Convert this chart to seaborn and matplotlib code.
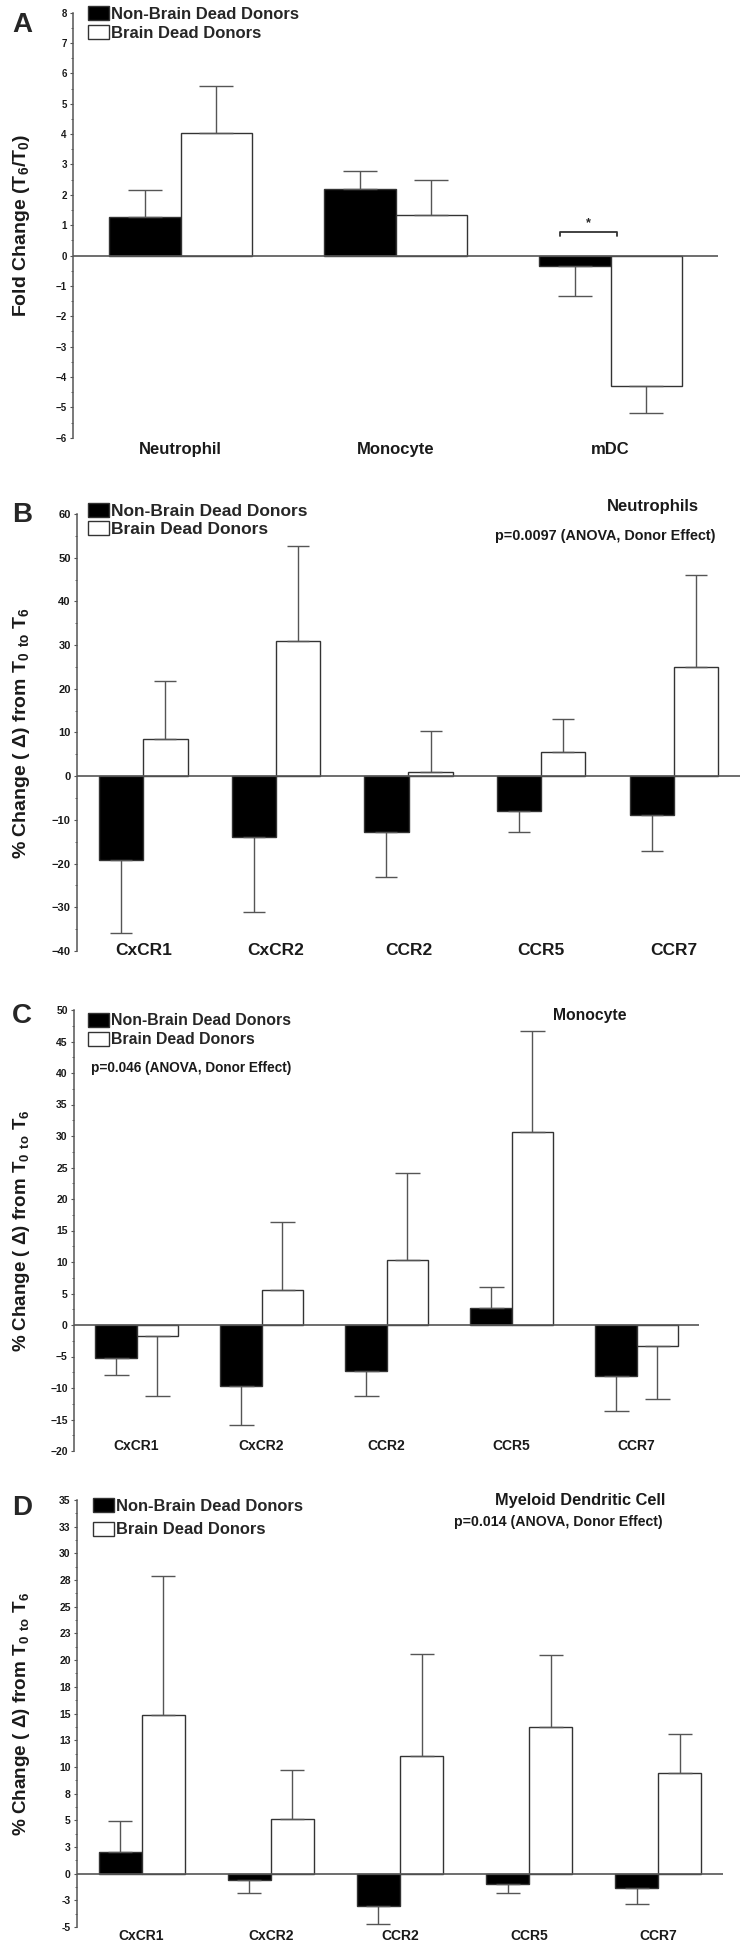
import matplotlib
matplotlib.use("Agg")
import matplotlib.pyplot as plt
from matplotlib import font_manager
from matplotlib.ticker import MultipleLocator, AutoMinorLocator, FuncFormatter
import numpy as np
import pandas as pd
import seaborn as sns

# --- data ---
DONORS = ['Non-Brain Dead Donors', 'Brain Dead Donors']

# A: fold change T6/T0
CELLS = ['Neutrophil', 'Monocyte', 'mDC']
A_NBD = [1.28, 2.20, -0.34]
A_NBD_ERR = [0.87, 0.57, 1.00]
A_BD = [4.03, 1.33, -4.30]
A_BD_ERR = [1.54, 1.17, 0.88]

RECEPTORS = ['CxCR1', 'CxCR2', 'CCR2', 'CCR5', 'CCR7']

# B: neutrophils
B_NBD = [-19.2, -14.0, -12.7, -7.9, -8.9]
B_NBD_ERR = [16.6, 17.0, 10.4, 4.9, 8.2]
B_BD = [8.5, 31.0, 1.0, 5.5, 24.9]
B_BD_ERR = [13.3, 21.6, 9.3, 7.5, 21.2]

# C: monocyte
C_NBD = [-5.2, -9.7, -7.3, 2.7, -8.1]
C_NBD_ERR = [2.7, 6.1, 4.0, 3.4, 5.5]
C_BD = [-1.7, 5.6, 10.3, 30.7, -3.4]
C_BD_ERR = [9.6, 10.7, 13.9, 16.0, 8.3]

# D: myeloid dendritic cell
D_NBD = [2.0, -0.6, -3.0, -1.0, -1.3]
D_NBD_ERR = [2.9, 1.2, 1.7, 0.8, 1.5]
D_BD = [14.9, 5.1, 11.0, 13.7, 9.4]
D_BD_ERR = [13.0, 4.6, 9.6, 6.8, 3.7]

W, H = 742, 1950
LINE = '#555555'
FONT = ['Liberation Sans', 'DejaVu Sans']

# condensed face for the small labels if we have it
_names = {f.name for f in font_manager.fontManager.ttflist}
if 'Liberation Sans Narrow' in _names:
    NARROW, K = ['Liberation Sans Narrow', 'Liberation Sans', 'DejaVu Sans'], 1.12
else:
    NARROW, K = FONT, 1.0

sns.set_theme(style='white')
plt.rcParams['font.family'] = FONT
plt.rcParams['font.weight'] = 'bold'
plt.rcParams['mathtext.default'] = 'regular'

fig = plt.figure(figsize=(W / 100, H / 100), dpi=100)


def add_axes(left, right, top, bottom):
    return fig.add_axes([left / W, 1 - bottom / H, (right - left) / W, (bottom - top) / H])


def half_up(v, pos):
    # the original rounds 2.5 -> 3, 7.5 -> 8 ...
    s = np.sign(v)
    return '%d' % (s * np.floor(abs(v) + 0.5))


def ntext(x, y, s, size, **kw):
    fig.text(x / W, 1 - y / H, s, fontsize=size * K, family=NARROW, fontweight='bold',
             color='#1a1a1a', va='center', **kw)


def panel(ax, cats, nbd, nbd_err, bd, bd_err, ylim, major, tick_fs, cat_fs, cat_pad,
          ylabel, ylabel_fs, capsize, leg_xy, leg_fs, leg_pitch, fmt=None):
    df = pd.DataFrame({
        'cat': cats * 2,
        'donor': [DONORS[0]] * len(cats) + [DONORS[1]] * len(cats),
        'val': nbd + bd,
    })
    sns.barplot(data=df, x='cat', y='val', hue='donor', hue_order=DONORS, order=cats,
                palette=['black', 'white'], saturation=1, width=2 / 3, errorbar=None,
                edgecolor='#333333', linewidth=1.0, legend=False, ax=ax)

    # one-sided error bars, away from zero
    for cont, vals, errs in zip(ax.containers, [nbd, bd], [nbd_err, bd_err]):
        for bar, v, e in zip(cont, vals, errs):
            x = bar.get_x() + bar.get_width() / 2
            yerr = [[0], [e]] if v >= 0 else [[e], [0]]
            ax.errorbar(x, v, yerr=yerr, fmt='none', ecolor=LINE, elinewidth=1.0,
                        capsize=capsize, capthick=1.0, zorder=3)

    ax.axhline(0, color=LINE, lw=1.2, zorder=4)
    ax.set_xlim(-0.5, len(cats) - 0.5)
    ax.set_ylim(*ylim)
    ax.yaxis.set_major_locator(MultipleLocator(major))
    ax.yaxis.set_minor_locator(AutoMinorLocator(2))
    if fmt is not None:
        ax.yaxis.set_major_formatter(FuncFormatter(fmt))
    for s in ['top', 'right', 'bottom']:
        ax.spines[s].set_visible(False)
    ax.spines['left'].set_color(LINE)
    ax.spines['left'].set_linewidth(1.1)
    ax.tick_params(axis='y', which='major', direction='out', length=2.5, width=0.8,
                   color=LINE, pad=2, labelsize=tick_fs * K, left=True)
    ax.tick_params(axis='y', which='minor', direction='out', length=1.5, width=0.6,
                   color=LINE, left=True)
    ax.tick_params(axis='x', length=0, pad=cat_pad, labelsize=cat_fs * K)
    for lab in ax.get_xticklabels() + ax.get_yticklabels():
        lab.set_fontweight('bold')
        lab.set_family(NARROW)
        lab.set_color('#1a1a1a')
    ax.set_xlabel('')
    ax.set_ylabel(ylabel, fontsize=ylabel_fs, fontweight='bold', va='center', color='#1a1a1a')
    pos = ax.get_position()
    ax.yaxis.set_label_coords((22 / W - pos.x0) / pos.width, 0.5)

    fs_px = leg_fs * K * 100 / 72
    ax.legend(ax.containers, DONORS, loc='upper left',
              bbox_to_anchor=(leg_xy[0] / W, 1 - leg_xy[1] / H), bbox_transform=fig.transFigure,
              frameon=False, borderpad=0, borderaxespad=0,
              handlelength=21 / fs_px, handleheight=15 / fs_px, handletextpad=2 / fs_px,
              labelspacing=leg_pitch / fs_px - 0.9,
              prop={'family': NARROW, 'weight': 'bold', 'size': leg_fs * K})


PCT_LABEL = r'% Change ( $\Delta$) from T$_0$ $_{to}$ T$_6$'

# ---------------- A ----------------
axA = add_axes(73, 718, 12.7, 437.7)
panel(axA, CELLS, A_NBD, A_NBD_ERR, A_BD, A_BD_ERR, (-6, 8), 1, 7, 12, 2.9,
      r'Fold Change (T$_6$/T$_0$)', 14, 12.5, (88, 6), 12, 18.5)
# significance bracket over mDC
BR_X0, BR_X1, BR_Y, BR_DROP = 1.765, 2.03, 0.76, 0.13
axA.plot([BR_X0, BR_X0, BR_X1, BR_X1], [BR_Y - BR_DROP, BR_Y, BR_Y, BR_Y - BR_DROP],
         color='#333333', lw=1.3)
axA.text((BR_X0 + BR_X1) / 2, BR_Y + 0.12, '*', ha='center', va='bottom',
         fontsize=9, fontweight='bold')

# ---------------- B ----------------
axB = add_axes(77, 740, 514, 951)
panel(axB, RECEPTORS, B_NBD, B_NBD_ERR, B_BD, B_BD_ERR, (-40, 60), 10, 8, 12.5, -5.4,
      PCT_LABEL, 14, 8, (88, 503), 12.5, 18)
ntext(653, 507, 'Neutrophils', 12, ha='center')
ntext(605, 536, 'p=0.0097 (ANOVA, Donor Effect)', 10.4, ha='center')

# ---------------- C ----------------
axC = add_axes(74, 699, 1010, 1451)
panel(axC, RECEPTORS, C_NBD, C_NBD_ERR, C_BD, C_BD_ERR, (-20, 50), 5, 7.5, 10, -8.6,
      PCT_LABEL, 13.5, 9, (88, 1013), 11.4, 18)
ntext(590, 1015, 'Monocyte', 11.3, ha='center')
ntext(91, 1068, 'p=0.046 (ANOVA, Donor Effect)', 9.8, ha='left')

# ---------------- D ----------------
axD = add_axes(77, 723, 1500, 1927)
panel(axD, RECEPTORS, D_NBD, D_NBD_ERR, D_BD, D_BD_ERR, (-5, 35), 2.5, 7.5, 10, 1.4,
      PCT_LABEL, 13.6, 8.3, (93, 1498), 11.9, 23, fmt=half_up)
ntext(580, 1500, 'Myeloid Dendritic Cell', 11.8, ha='center')
ntext(558, 1522, 'p=0.014 (ANOVA, Donor Effect)', 10.2, ha='center')

# panel letters
for letter, y in [('A', 25), ('B', 515), ('C', 1016), ('D', 1508)]:
    fig.text(22 / W, 1 - y / H, letter, ha='center', va='center', fontsize=20, fontweight='bold')

fig.savefig('out.png', dpi=100)
